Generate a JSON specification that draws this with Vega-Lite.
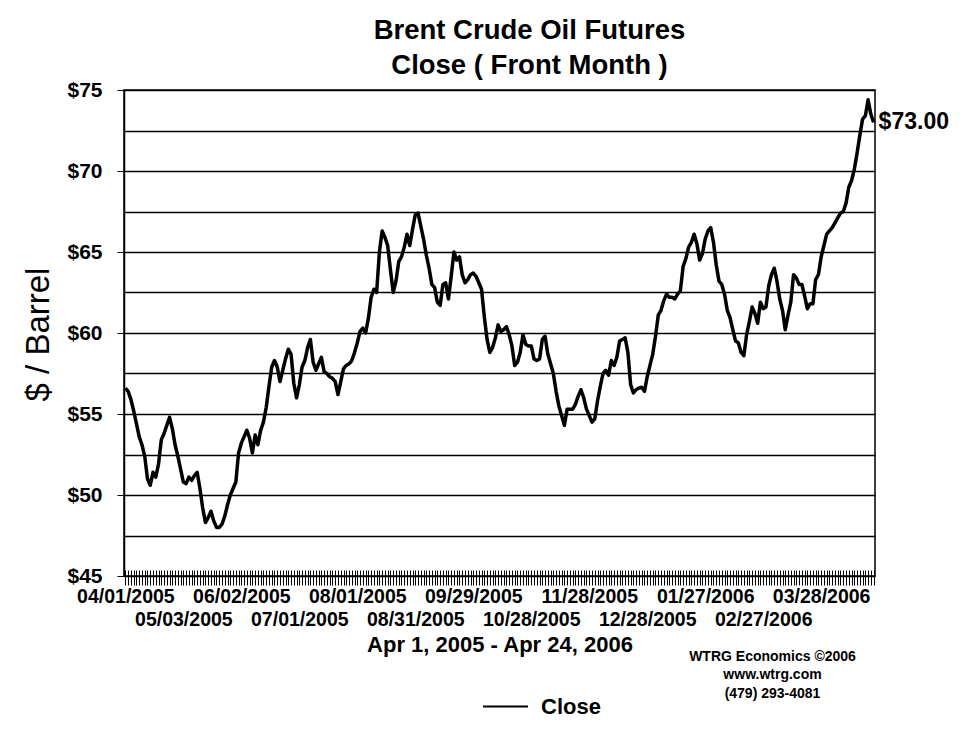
{
  "$schema": "https://vega.github.io/schema/vega-lite/v6.json",
  "width": 751,
  "height": 486,
  "autosize": "none",
  "padding": {"left": 124, "top": 90, "right": 90, "bottom": 161},
  "background": "white",
  "config": {
    "view": {"stroke": "black", "strokeWidth": 1.5},
    "font": "Liberation Sans"
  },
  "title": {
    "text": ["Brent Crude Oil Futures", "Close ( Front Month )"],
    "font": "Liberation Sans",
    "fontSize": 27.5,
    "fontWeight": "bold",
    "color": "black",
    "anchor": "middle",
    "frame": "group",
    "dx": 30,
    "offset": -28,
    "baseline": "bottom",
    "lineHeight": 35
  },
  "data": {"values": [
    {"date": "04/01/2005", "close": 56.6}, {"date": "04/04/2005", "close": 56.4}, {"date": "04/05/2005", "close": 55.9}, {"date": "04/06/2005", "close": 55.2}, {"date": "04/07/2005", "close": 54.4}, {"date": "04/08/2005", "close": 53.6}, {"date": "04/11/2005", "close": 53.1}, {"date": "04/12/2005", "close": 52.4}, {"date": "04/13/2005", "close": 51.0}, {"date": "04/14/2005", "close": 50.6},
    {"date": "04/15/2005", "close": 51.4}, {"date": "04/18/2005", "close": 51.1}, {"date": "04/19/2005", "close": 51.9}, {"date": "04/20/2005", "close": 53.4}, {"date": "04/21/2005", "close": 53.8}, {"date": "04/22/2005", "close": 54.3}, {"date": "04/25/2005", "close": 54.8}, {"date": "04/26/2005", "close": 54.1}, {"date": "04/27/2005", "close": 53.1}, {"date": "04/28/2005", "close": 52.4},
    {"date": "04/29/2005", "close": 51.6}, {"date": "05/03/2005", "close": 50.8}, {"date": "05/04/2005", "close": 50.7}, {"date": "05/05/2005", "close": 51.1}, {"date": "05/06/2005", "close": 50.9}, {"date": "05/09/2005", "close": 51.2}, {"date": "05/10/2005", "close": 51.4}, {"date": "05/11/2005", "close": 50.4}, {"date": "05/12/2005", "close": 49.2}, {"date": "05/13/2005", "close": 48.3},
    {"date": "05/16/2005", "close": 48.6}, {"date": "05/17/2005", "close": 49.0}, {"date": "05/18/2005", "close": 48.4}, {"date": "05/19/2005", "close": 48.0}, {"date": "05/20/2005", "close": 48.0}, {"date": "05/23/2005", "close": 48.2}, {"date": "05/24/2005", "close": 48.7}, {"date": "05/25/2005", "close": 49.4}, {"date": "05/26/2005", "close": 50.0}, {"date": "05/27/2005", "close": 50.4},
    {"date": "05/31/2005", "close": 50.8}, {"date": "06/01/2005", "close": 52.6}, {"date": "06/02/2005", "close": 53.2}, {"date": "06/03/2005", "close": 53.6}, {"date": "06/06/2005", "close": 54.0}, {"date": "06/07/2005", "close": 53.5}, {"date": "06/08/2005", "close": 52.6}, {"date": "06/09/2005", "close": 53.7}, {"date": "06/10/2005", "close": 53.1}, {"date": "06/13/2005", "close": 54.0},
    {"date": "06/14/2005", "close": 54.5}, {"date": "06/15/2005", "close": 55.4}, {"date": "06/16/2005", "close": 56.7}, {"date": "06/17/2005", "close": 57.9}, {"date": "06/20/2005", "close": 58.3}, {"date": "06/21/2005", "close": 57.9}, {"date": "06/22/2005", "close": 57.0}, {"date": "06/23/2005", "close": 57.7}, {"date": "06/24/2005", "close": 58.4}, {"date": "06/27/2005", "close": 59.0},
    {"date": "06/28/2005", "close": 58.7}, {"date": "06/29/2005", "close": 56.9}, {"date": "06/30/2005", "close": 56.0}, {"date": "07/01/2005", "close": 56.8}, {"date": "07/04/2005", "close": 57.9}, {"date": "07/05/2005", "close": 58.3}, {"date": "07/06/2005", "close": 59.1}, {"date": "07/07/2005", "close": 59.6}, {"date": "07/08/2005", "close": 58.2}, {"date": "07/11/2005", "close": 57.7},
    {"date": "07/12/2005", "close": 58.1}, {"date": "07/13/2005", "close": 58.5}, {"date": "07/14/2005", "close": 57.6}, {"date": "07/15/2005", "close": 57.5}, {"date": "07/18/2005", "close": 57.3}, {"date": "07/19/2005", "close": 57.2}, {"date": "07/20/2005", "close": 57.0}, {"date": "07/21/2005", "close": 56.2}, {"date": "07/22/2005", "close": 57.0}, {"date": "07/25/2005", "close": 57.8},
    {"date": "07/26/2005", "close": 58.0}, {"date": "07/27/2005", "close": 58.1}, {"date": "07/28/2005", "close": 58.3}, {"date": "07/29/2005", "close": 58.8}, {"date": "08/01/2005", "close": 59.4}, {"date": "08/02/2005", "close": 60.1}, {"date": "08/03/2005", "close": 60.3}, {"date": "08/04/2005", "close": 60.0}, {"date": "08/05/2005", "close": 60.9}, {"date": "08/08/2005", "close": 62.2},
    {"date": "08/09/2005", "close": 62.7}, {"date": "08/10/2005", "close": 62.5}, {"date": "08/11/2005", "close": 65.0}, {"date": "08/12/2005", "close": 66.3}, {"date": "08/15/2005", "close": 65.9}, {"date": "08/16/2005", "close": 65.4}, {"date": "08/17/2005", "close": 63.9}, {"date": "08/18/2005", "close": 62.5}, {"date": "08/19/2005", "close": 63.2}, {"date": "08/22/2005", "close": 64.4},
    {"date": "08/23/2005", "close": 64.7}, {"date": "08/24/2005", "close": 65.3}, {"date": "08/25/2005", "close": 66.1}, {"date": "08/26/2005", "close": 65.4}, {"date": "08/30/2005", "close": 66.4}, {"date": "08/31/2005", "close": 67.3}, {"date": "09/01/2005", "close": 67.4}, {"date": "09/02/2005", "close": 66.6}, {"date": "09/05/2005", "close": 65.8}, {"date": "09/06/2005", "close": 64.8},
    {"date": "09/07/2005", "close": 64.0}, {"date": "09/08/2005", "close": 63.0}, {"date": "09/09/2005", "close": 62.8}, {"date": "09/12/2005", "close": 61.9}, {"date": "09/13/2005", "close": 61.7}, {"date": "09/14/2005", "close": 63.0}, {"date": "09/15/2005", "close": 63.1}, {"date": "09/16/2005", "close": 62.1}, {"date": "09/19/2005", "close": 63.5}, {"date": "09/20/2005", "close": 65.0},
    {"date": "09/21/2005", "close": 64.5}, {"date": "09/22/2005", "close": 64.7}, {"date": "09/23/2005", "close": 63.6}, {"date": "09/26/2005", "close": 63.1}, {"date": "09/27/2005", "close": 63.3}, {"date": "09/28/2005", "close": 63.6}, {"date": "09/29/2005", "close": 63.7}, {"date": "09/30/2005", "close": 63.5}, {"date": "10/03/2005", "close": 63.1}, {"date": "10/04/2005", "close": 62.7},
    {"date": "10/05/2005", "close": 61.0}, {"date": "10/06/2005", "close": 59.6}, {"date": "10/07/2005", "close": 58.8}, {"date": "10/10/2005", "close": 59.1}, {"date": "10/11/2005", "close": 59.7}, {"date": "10/12/2005", "close": 60.5}, {"date": "10/13/2005", "close": 60.1}, {"date": "10/14/2005", "close": 60.2}, {"date": "10/17/2005", "close": 60.4}, {"date": "10/18/2005", "close": 59.9},
    {"date": "10/19/2005", "close": 59.2}, {"date": "10/20/2005", "close": 58.0}, {"date": "10/21/2005", "close": 58.2}, {"date": "10/24/2005", "close": 58.8}, {"date": "10/25/2005", "close": 59.9}, {"date": "10/26/2005", "close": 59.3}, {"date": "10/27/2005", "close": 59.2}, {"date": "10/28/2005", "close": 59.2}, {"date": "10/31/2005", "close": 58.4}, {"date": "11/01/2005", "close": 58.3},
    {"date": "11/02/2005", "close": 58.4}, {"date": "11/03/2005", "close": 59.6}, {"date": "11/04/2005", "close": 59.8}, {"date": "11/07/2005", "close": 58.7}, {"date": "11/08/2005", "close": 58.1}, {"date": "11/09/2005", "close": 57.5}, {"date": "11/10/2005", "close": 56.4}, {"date": "11/11/2005", "close": 55.5}, {"date": "11/14/2005", "close": 54.9}, {"date": "11/15/2005", "close": 54.3},
    {"date": "11/16/2005", "close": 55.3}, {"date": "11/17/2005", "close": 55.3}, {"date": "11/18/2005", "close": 55.3}, {"date": "11/21/2005", "close": 55.6}, {"date": "11/22/2005", "close": 56.1}, {"date": "11/23/2005", "close": 56.5}, {"date": "11/24/2005", "close": 56.0}, {"date": "11/25/2005", "close": 55.3}, {"date": "11/28/2005", "close": 54.9}, {"date": "11/29/2005", "close": 54.5},
    {"date": "11/30/2005", "close": 54.7}, {"date": "12/01/2005", "close": 55.8}, {"date": "12/02/2005", "close": 56.7}, {"date": "12/05/2005", "close": 57.5}, {"date": "12/06/2005", "close": 57.7}, {"date": "12/07/2005", "close": 57.4}, {"date": "12/08/2005", "close": 58.3}, {"date": "12/09/2005", "close": 58.0}, {"date": "12/12/2005", "close": 58.5}, {"date": "12/13/2005", "close": 59.5},
    {"date": "12/14/2005", "close": 59.6}, {"date": "12/15/2005", "close": 59.7}, {"date": "12/16/2005", "close": 58.8}, {"date": "12/19/2005", "close": 56.8}, {"date": "12/20/2005", "close": 56.3}, {"date": "12/21/2005", "close": 56.5}, {"date": "12/22/2005", "close": 56.6}, {"date": "12/23/2005", "close": 56.65}, {"date": "12/27/2005", "close": 56.4}, {"date": "12/28/2005", "close": 57.3},
    {"date": "12/29/2005", "close": 58.0}, {"date": "12/30/2005", "close": 58.7}, {"date": "01/03/2006", "close": 59.8}, {"date": "01/04/2006", "close": 61.1}, {"date": "01/05/2006", "close": 61.4}, {"date": "01/06/2006", "close": 62.0}, {"date": "01/09/2006", "close": 62.4}, {"date": "01/10/2006", "close": 62.2}, {"date": "01/11/2006", "close": 62.2}, {"date": "01/12/2006", "close": 62.1},
    {"date": "01/13/2006", "close": 62.4}, {"date": "01/16/2006", "close": 62.6}, {"date": "01/17/2006", "close": 64.1}, {"date": "01/18/2006", "close": 64.6}, {"date": "01/19/2006", "close": 65.3}, {"date": "01/20/2006", "close": 65.6}, {"date": "01/23/2006", "close": 66.1}, {"date": "01/24/2006", "close": 65.5}, {"date": "01/25/2006", "close": 64.5}, {"date": "01/26/2006", "close": 64.9},
    {"date": "01/27/2006", "close": 65.8}, {"date": "01/30/2006", "close": 66.3}, {"date": "01/31/2006", "close": 66.5}, {"date": "02/01/2006", "close": 65.6}, {"date": "02/02/2006", "close": 64.2}, {"date": "02/03/2006", "close": 63.2}, {"date": "02/06/2006", "close": 63.0}, {"date": "02/07/2006", "close": 62.4}, {"date": "02/08/2006", "close": 61.4}, {"date": "02/09/2006", "close": 60.95},
    {"date": "02/10/2006", "close": 60.2}, {"date": "02/13/2006", "close": 59.5}, {"date": "02/14/2006", "close": 59.4}, {"date": "02/15/2006", "close": 58.8}, {"date": "02/16/2006", "close": 58.6}, {"date": "02/17/2006", "close": 59.9}, {"date": "02/20/2006", "close": 60.7}, {"date": "02/21/2006", "close": 61.6}, {"date": "02/22/2006", "close": 61.2}, {"date": "02/23/2006", "close": 60.6},
    {"date": "02/24/2006", "close": 61.9}, {"date": "02/27/2006", "close": 61.5}, {"date": "02/28/2006", "close": 61.6}, {"date": "03/01/2006", "close": 62.9}, {"date": "03/02/2006", "close": 63.6}, {"date": "03/03/2006", "close": 64.0}, {"date": "03/06/2006", "close": 63.2}, {"date": "03/07/2006", "close": 62.1}, {"date": "03/08/2006", "close": 61.4}, {"date": "03/09/2006", "close": 60.2},
    {"date": "03/10/2006", "close": 61.1}, {"date": "03/13/2006", "close": 61.9}, {"date": "03/14/2006", "close": 63.6}, {"date": "03/15/2006", "close": 63.4}, {"date": "03/16/2006", "close": 63.0}, {"date": "03/17/2006", "close": 63.0}, {"date": "03/20/2006", "close": 62.3}, {"date": "03/21/2006", "close": 61.5}, {"date": "03/22/2006", "close": 61.8}, {"date": "03/23/2006", "close": 61.8},
    {"date": "03/24/2006", "close": 63.3}, {"date": "03/27/2006", "close": 63.6}, {"date": "03/28/2006", "close": 64.7}, {"date": "03/29/2006", "close": 65.4}, {"date": "03/30/2006", "close": 66.1}, {"date": "03/31/2006", "close": 66.3}, {"date": "04/03/2006", "close": 66.5}, {"date": "04/04/2006", "close": 66.8}, {"date": "04/05/2006", "close": 67.1}, {"date": "04/06/2006", "close": 67.4},
    {"date": "04/07/2006", "close": 67.5}, {"date": "04/10/2006", "close": 68.0}, {"date": "04/11/2006", "close": 69.0}, {"date": "04/12/2006", "close": 69.4}, {"date": "04/13/2006", "close": 70.1}, {"date": "04/14/2006", "close": 71.1}, {"date": "04/17/2006", "close": 72.2}, {"date": "04/18/2006", "close": 73.2}, {"date": "04/19/2006", "close": 73.4}, {"date": "04/20/2006", "close": 74.4},
    {"date": "04/21/2006", "close": 73.5}, {"date": "04/24/2006", "close": 73.0}
  ]},
  "layer": [
    {
      "mark": {"type": "line", "strokeWidth": 3.5, "strokeJoin": "round"},
      "encoding": {
        "x": {
          "field": "date", "type": "ordinal", "sort": null,
          "scale": {"type": "point", "padding": 0.5},
          "axis": {
            "orient": "bottom",
            "labels": false,
            "ticks": true,
            "tickSize": 15,
            "tickColor": "black",
            "tickWidth": 1,
            "domain": false,
            "grid": false,
            "offset": -6,
            "title": "Apr 1, 2005 - Apr 24, 2006",
            "titleFont": "Liberation Sans",
            "titleFontSize": 22,
            "titleFontWeight": "bold",
            "titleColor": "black",
            "titleBaseline": "alphabetic",
            "titleY": 81
          }
        },
        "y": {
          "field": "close", "type": "quantitative",
          "scale": {"domain": [45, 75], "nice": false, "zero": false},
          "axis": {
            "values": [45, 47.5, 50, 52.5, 55, 57.5, 60, 62.5, 65, 67.5, 70, 72.5, 75],
            "labelExpr": "datum.value % 5 == 0 ? '$' + datum.value : ''",
            "labelFont": "Liberation Sans",
            "labelFontSize": 21,
            "labelFontWeight": "bold",
            "labelColor": "black",
            "labelPadding": 15,
            "tickSize": 7,
            "tickColor": "black",
            "tickOpacity": {"condition": {"test": "datum.value % 5 == 0", "value": 1}, "value": 0},
            "grid": true,
            "gridColor": "black",
            "gridWidth": 1.3,
            "gridOpacity": 1,
            "domainColor": "black",
            "domainWidth": 1.5,
            "title": "$ / Barrel",
            "titleFont": "Liberation Sans",
            "titleFontSize": 33,
            "titleFontWeight": "normal",
            "titleColor": "black",
            "titleAngle": 270,
            "titleAlign": "center",
            "titleBaseline": "bottom",
            "titleX": -69,
            "titleY": 244
          }
        },
        "color": {
          "datum": "Close",
          "scale": {"range": ["black"]},
          "legend": {
            "orient": "none",
            "legendX": 358,
            "legendY": 593,
            "title": null,
            "symbolType": "stroke",
            "symbolSize": 2025,
            "symbolStrokeWidth": 2,
            "labelFont": "Liberation Sans",
            "labelFontSize": 22,
            "labelFontWeight": "bold",
            "labelColor": "black",
            "labelOffset": 12,
            "padding": 0
          }
        }
      }
    },
    {
      "transform": [{"filter": "datum.date == '04/24/2006'"}],
      "mark": {"type": "text", "align": "left", "baseline": "middle", "dx": 5, "fontSize": 23, "fontWeight": "bold", "font": "Liberation Sans", "color": "black"},
      "encoding": {
        "x": {
          "field": "date", "type": "ordinal", "sort": null,
          "axis": {
            "orient": "bottom",
            "values": ["04/01/2005", "06/02/2005", "08/01/2005", "09/29/2005", "11/28/2005", "01/27/2006", "03/28/2006"],
            "ticks": false,
            "tickSize": 0,
            "domain": false,
            "grid": false,
            "labelOverlap": false,
            "labelFont": "Liberation Sans",
            "labelFontSize": 19.5,
            "labelFontWeight": "bold",
            "labelColor": "black",
            "labelPadding": 11.3,
            "labelAngle": 0,
            "title": ["WTRG Economics  \u00a92006", "www.wtrg.com", "(479) 293-4081"],
            "titleFont": "Liberation Sans",
            "titleFontSize": 14,
            "titleFontWeight": "bold",
            "titleColor": "black",
            "titleAlign": "center",
            "titleBaseline": "alphabetic",
            "titleLineHeight": 18.5,
            "titleX": 648,
            "titleY": 84
          }
        },
        "y": {"field": "close", "type": "quantitative"},
        "text": {"field": "close", "type": "quantitative", "format": "$.2f"}
      }
    },
    {
      "mark": {"type": "line", "opacity": 0},
      "encoding": {
        "x": {
          "field": "date", "type": "ordinal", "sort": null,
          "axis": {
            "orient": "bottom",
            "values": ["05/03/2005", "07/01/2005", "08/31/2005", "10/28/2005", "12/28/2005", "02/27/2006"],
            "ticks": false,
            "tickSize": 0,
            "domain": false,
            "grid": false,
            "labelOverlap": false,
            "labelFont": "Liberation Sans",
            "labelFontSize": 19.5,
            "labelFontWeight": "bold",
            "labelColor": "black",
            "labelPadding": 34,
            "labelAngle": 0,
            "title": null
          }
        },
        "y": {"field": "close", "type": "quantitative"}
      }
    }
  ],
  "resolve": {"axis": {"x": "independent"}}
}
